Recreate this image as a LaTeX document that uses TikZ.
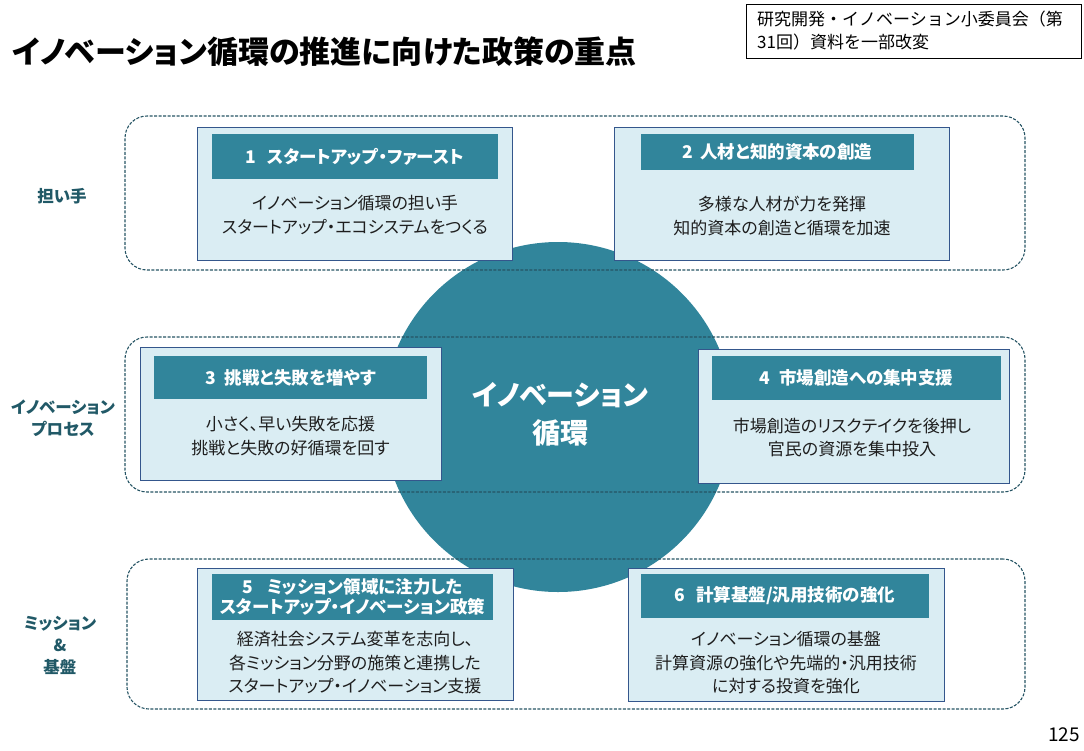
\documentclass[tikz,border=0pt]{standalone}
\usepackage{fontspec}
\setmainfont{Noto Sans CJK JP}[CharacterWidth=AlternateProportional]
\newfontfamily\srcfont{Noto Sans CJK JP}

\definecolor{cycleteal}{RGB}{49,133,155}
\definecolor{cardfill}{RGB}{218,237,243}
\definecolor{cardline}{RGB}{52,86,140}
\definecolor{bandline}{RGB}{38,84,100}
\definecolor{labelteal}{RGB}{33,89,103}
\definecolor{bodytext}{RGB}{30,30,30}

\tikzset{
  band/.style={draw=bandline, line width=1.1pt, dash pattern=on 3pt off 1.5pt,
    rounded corners=22pt, inner sep=0pt},
  card/.style={draw=cardline, fill=cardfill, line width=1pt, inner sep=0pt},
  headbar/.style={fill=cycleteal, text=white, inner sep=0pt, align=center,
    font=\bfseries\fontsize{17.5}{20}\selectfont},
  bodytxt/.style={text=bodytext, inner sep=0pt, align=center,
    font=\fontsize{17}{23.5}\selectfont},
  rowlabel/.style={text=labelteal, inner sep=0pt, align=center,
    font=\bfseries\fontsize{16.5}{22}\selectfont},
}

\begin{document}
\begin{tikzpicture}[x=1pt,y=-1pt]
        \useasboundingbox (0,0) rectangle (1084,750);
        % Titulo y fuente
        \node[anchor=west, inner sep=0pt, font=\bfseries\fontsize{31}{34}\selectfont]
            (title) at (12,52) {イノベーション循環の推進に向けた政策の重点};
        \node[draw, line width=0.8pt, anchor=north west, minimum width=335pt, minimum height=54pt,
            inner sep=0pt] (srcbox) at (746,4) {};
        \node[anchor=west, align=left, inner sep=0pt, font=\srcfont\fontsize{17}{23}\selectfont]
            (srctxt) at (757,30.5) {研究開発・イノベーション小委員会（第\\31回）資料を一部改変};
        % Circulo central
        \node[circle, fill=cycleteal, minimum size=350pt, inner sep=0pt] (cycle) at (558,417) {};
        \node[text=white, align=center, inner sep=0pt, font=\bfseries\fontsize{28}{38}\selectfont]
            (cycletxt) at (560,414) {イノベーション\\循環};
        % Bandas
        \node[band, minimum width=900pt, minimum height=154pt] (band1) at (575,193) {};
        \node[band, minimum width=900pt, minimum height=155pt] (band2) at (575,414.5) {};
        \node[band, minimum width=898pt, minimum height=150pt] (band3) at (576,634) {};
        \node[rowlabel] (row1) at (62,196) {担い手};
        \node[rowlabel] (row2) at (63,418.5) {イノベーション\\プロセス};
        \node[rowlabel] (row3) at (60,645) {ミッション\\\&\\基盤};
        % Tarjetas
        \node[card, minimum width=315pt, minimum height=133pt] (card1) at (354.5,193.5) {};
        \node[headbar, minimum width=286pt, minimum height=45pt] (head1) at (355,156.5)
            {1\hspace{.6em}スタートアップ・ファースト};
        \node[bodytxt] (body1) at (355,215) {イノベーション循環の担い手\\スタートアップ・エコシステムをつくる};

        \node[card, minimum width=335pt, minimum height=133pt] (card2) at (781.5,193.5) {};
        \node[headbar, minimum width=273pt, minimum height=36pt] (head2) at (777.5,152)
            {2\hspace{.4em}人材と知的資本の創造};
        \node[bodytxt] (body2) at (782,216) {多様な人材が力を発揮\\知的資本の創造と循環を加速};

        \node[card, minimum width=301pt, minimum height=133pt] (card3) at (290.5,413.5) {};
        \node[headbar, minimum width=273pt, minimum height=43pt] (head3) at (290.5,377.5)
            {3\hspace{.5em}挑戦と失敗を増やす};
        \node[bodytxt] (body3) at (290.5,436) {小さく、早い失敗を応援\\挑戦と失敗の好循環を回す};

        \node[card, minimum width=311pt, minimum height=134pt] (card4) at (853.5,416) {};
        \node[headbar, minimum width=289pt, minimum height=44pt] (head4) at (856.5,378)
            {4\hspace{.5em}市場創造への集中支援};
        \node[bodytxt] (body4) at (852,437.5) {市場創造のリスクテイクを後押し\\官民の資源を集中投入};

        \node[card, minimum width=316pt, minimum height=132pt] (card5) at (355,634) {};
        \node[headbar, minimum width=281pt, minimum height=46pt] (head5) at (352.5,597)
            {5\hspace{.8em}ミッション領域に注力した\\スタートアップ・イノベーション政策};
        \node[bodytxt] (body5) at (355,663) {経済社会システム変革を志向し、\\各ミッション分野の施策と連携した\\スタートアップ・イノベーション支援};

        \node[card, minimum width=316pt, minimum height=133pt] (card6) at (786,634.5) {};
        \node[headbar, minimum width=288pt, minimum height=44pt] (head6) at (785,596)
            {6\hspace{.6em}計算基盤/汎用技術の強化};
        \node[bodytxt] (body6) at (786,663) {イノベーション循環の基盤\\計算資源の強化や先端的・汎用技術\\に対する投資を強化};
        % Pagina
        \node[anchor=east, inner sep=0pt, font=\fontsize{19}{21}\selectfont] (pagenum) at (1080,735) {125};
\end{tikzpicture}
\end{document}
